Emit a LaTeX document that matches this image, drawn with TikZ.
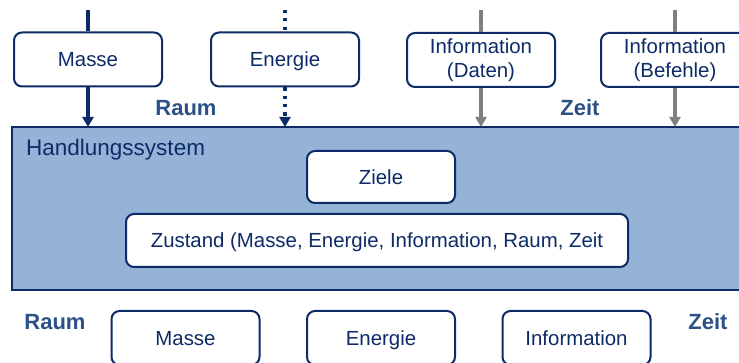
\documentclass[tikz,border=0pt]{standalone}
\usepackage{fontspec}
\setmainfont{Liberation Sans}
\usetikzlibrary{arrows.meta}
\definecolor{navy}{HTML}{0D2B66}
\definecolor{labelblue}{HTML}{2B5186}
\definecolor{sysfill}{HTML}{95B3D7}
\definecolor{flowgray}{HTML}{808080}
\begin{document}
\begin{tikzpicture}[x=1pt,y=-1pt,
  box/.style={draw=navy, line width=2pt, fill=white, rounded corners=8pt,
    minimum width=148pt, minimum height=54pt, inner sep=0pt, align=center,
    text=navy, font=\fontsize{20.4}{24.5}\selectfont},
  oneline/.style={text height=14.6pt, text depth=0pt},
  dimlabel/.style={text=labelblue, font=\fontsize{22}{26}\selectfont\bfseries, inner sep=0pt},
  tip/.style={-{Triangle[width=11pt,length=10pt]}},
  massflow/.style={draw=navy, line width=3.4pt},
  energyflow/.style={draw=navy, line width=3.4pt, dash pattern=on 3.2pt off 5.1pt},
  infoflow/.style={draw=flowgray, line width=3.4pt}]
  \clip (0,0) rectangle (739,363);
  \useasboundingbox (0,0) rectangle (739,363);

  % action system
  \draw[draw=navy, fill=sysfill, line width=2.2pt] (12,127) rectangle (750,290);
  \coordinate (sysnw) at (12,127);
  \node[anchor=west, text=navy, font=\fontsize{22.5}{26}\selectfont, inner sep=0pt] (systitle) at (26,150) {Handlungssystem};
  \node[box, oneline, minimum height=52pt] (ziele) at (381,177) {Ziele};
  \node[box, oneline, minimum width=502pt, minimum height=53pt] (zustand) at (377,240.5) {Zustand (Masse, Energie, Information, Raum, Zeit};

  % inputs
  \node[box, oneline] (min) at (88,59.5) {Masse};
  \node[box, oneline] (ein) at (285,59.5) {Energie};
  \node[box] (dat) at (481,60) {Information\\(Daten)};
  \node[box] (bef) at (675,60) {Information\\(Befehle)};
  \node[dimlabel] (raumtop) at (186,108) {Raum};
  \node[dimlabel] (zeittop) at (580,108) {Zeit};

  \coordinate (minsrc) at (88,10);
  \coordinate (einsrc) at (285,10);
  \coordinate (datsrc) at (481,10);
  \coordinate (befsrc) at (675,10);

  \draw[massflow] (minsrc) -- (min.north);
  \draw[massflow, tip] (min.south) -- (min.south |- sysnw);
  \draw[energyflow] (einsrc) -- (ein.north);
  \draw[energyflow, tip] (ein.south) -- (ein.south |- sysnw);
  \draw[infoflow] (datsrc) -- (dat.north);
  \draw[infoflow, tip] (dat.south) -- (dat.south |- sysnw);
  \draw[infoflow] (befsrc) -- (bef.north);
  \draw[infoflow, tip] (bef.south) -- (bef.south |- sysnw);

  % outputs
  \node[dimlabel] (raumbot) at (55,322) {Raum};
  \node[dimlabel] (zeitbot) at (708,322) {Zeit};
  \node[box, oneline] (mout) at (185.5,338) {Masse};
  \node[box, oneline] (eout) at (381,338) {Energie};
  \node[box, oneline] (iout) at (576.5,338) {Information};
\end{tikzpicture}
\end{document}
